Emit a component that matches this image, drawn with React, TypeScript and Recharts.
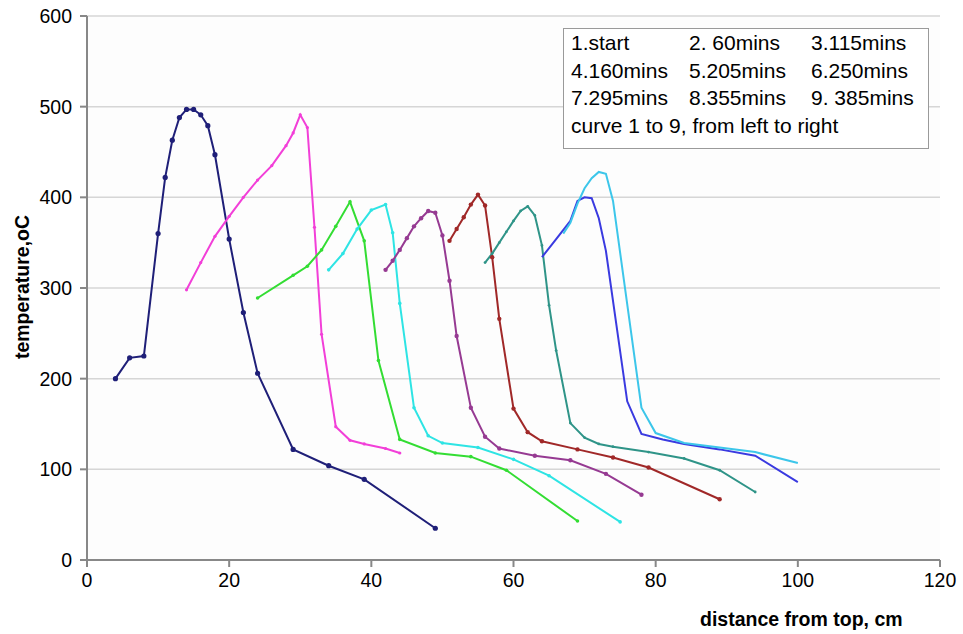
import { LineChart, Line, XAxis, YAxis, CartesianGrid } from 'recharts'

// distance from top (cm) / temperature (oC)
const curve1 = [[4, 200], [6, 223], [8, 225], [10, 360], [11, 422], [12, 463], [13, 488], [14, 497], [15, 497], [16, 491], [17, 479], [18, 447], [20, 354], [22, 273], [24, 206], [29, 122], [34, 104], [39, 89], [49, 35]]
const curve2 = [[14, 298], [16, 328], [18, 357], [20, 379], [22, 400], [24, 419], [26, 435], [28, 457], [29, 471], [30, 491], [31, 477], [32, 367], [33, 249], [35, 147], [37, 132], [39, 128], [42, 123], [44, 118]]
const curve3 = [[24, 289], [29, 314], [31, 324], [33, 342], [35, 368], [37, 395], [39, 352], [41, 220], [44, 133], [49, 118], [54, 114], [59, 99], [69, 43]]
const curve4 = [[34, 320], [36, 338], [38, 365], [40, 386], [42, 392], [43, 361], [44, 283], [46, 168], [48, 137], [50, 129], [55, 124], [60, 111], [65, 93], [75, 42]]
const curve5 = [[42, 320], [43, 330], [44, 342], [45, 355], [46, 368], [47, 377], [48, 385], [49, 383], [50, 358], [51, 308], [52, 247], [54, 168], [56, 136], [58, 123], [63, 115], [68, 110], [73, 95], [78, 72]]
const curve6 = [[51, 352], [52, 365], [53, 378], [54, 392], [55, 403], [56, 391], [57, 334], [58, 266], [60, 167], [62, 141], [64, 131], [69, 122], [74, 113], [79, 102], [89, 67]]
const curve7 = [[56, 328], [57, 338], [58, 350], [59, 362], [60, 374], [61, 385], [62, 390], [63, 380], [64, 347], [65, 281], [66, 231], [68, 151], [70, 135], [72, 128], [74, 125], [79, 119], [84, 112], [89, 99], [94, 75]]
const curve8 = [[64, 334], [66, 354], [68, 374], [69, 396], [70, 400], [71, 399], [72, 377], [73, 341], [76, 175], [78, 139], [81, 133], [84, 128], [89, 122], [94, 115], [100, 86]]
const curve9 = [[67, 360], [68, 372], [69, 393], [70, 410], [71, 421], [72, 428], [73, 426], [74, 396], [78, 168], [80, 140], [84, 129], [89, 124], [94, 119], [100, 107]]

const xTicks = [0, 20, 40, 60, 80, 100, 120]
const yTicks = [0, 100, 200, 300, 400, 500, 600]

const legendRows = [
  ['1.start', '2. 60mins', '3.115mins'],
  ['4.160mins', '5.205mins', '6.250mins'],
  ['7.295mins', '8.355mins', '9. 385mins'],
]
const legendNote = 'curve 1 to 9, from left to right'

const series = [
  { data: curve1, color: '#1f1f78', dot: 2.6 },
  { data: curve2, color: '#f23fd8', dot: 1.6 },
  { data: curve3, color: '#33dd33', dot: 1.8 },
  { data: curve4, color: '#2ee4e4', dot: 1.8 },
  { data: curve5, color: '#963a92', dot: 2.2 },
  { data: curve6, color: '#a02828', dot: 2.2 },
  { data: curve7, color: '#2f9488', dot: 1.4 },
  { data: curve8, color: '#3a3ae0', dot: 0 },
  { data: curve9, color: '#3cc6ea', dot: 0 },
]

const font = '"Liberation Sans", Arial, sans-serif'
const legendCols = [7, 125, 247]

export default function App() {
  return (
    <div style={{ position: 'relative', width: 963, height: 634, background: '#fff', fontFamily: font }}>
      <style>{'body{margin:0}'}</style>
      <LineChart width={963} height={634} margin={{ top: 16, right: 23, left: 0, bottom: 44 }}>
        <CartesianGrid horizontal vertical={false} stroke="#d6d6d6" strokeWidth={1.5} fill="#fdfdfd" fillOpacity={1} />
        <XAxis
          type="number"
          dataKey="x"
          domain={[0, 120]}
          ticks={xTicks}
          height={30}
          tickSize={7}
          tickMargin={6}
          stroke="#888"
          strokeWidth={2}
          tick={{ fill: '#000', fontSize: 19.5, fontFamily: font }}
          allowDuplicatedCategory={false}
        />
        <YAxis
          type="number"
          domain={[0, 600]}
          ticks={yTicks}
          width={87}
          tickSize={7}
          tickMargin={8}
          stroke="#888"
          strokeWidth={2}
          tick={{ fill: '#000', fontSize: 19.5, fontFamily: font }}
        />
        {series.map((s, i) => (
          <Line
            key={i}
            data={s.data.map(([x, y]) => ({ x, y }))}
            dataKey="y"
            type="linear"
            stroke={s.color}
            strokeWidth={2}
            dot={s.dot ? { r: s.dot, fill: s.color, stroke: s.color, strokeWidth: 0 } : false}
            activeDot={false}
            isAnimationActive={false}
          />
        ))}
      </LineChart>

      <div
        style={{
          position: 'absolute', left: 22, top: 287, transform: 'translate(-50%, -50%) rotate(-90deg)',
          fontWeight: 'bold', fontSize: 19.5, whiteSpace: 'nowrap',
        }}
      >
        temperature,oC
      </div>
      <div style={{ position: 'absolute', left: 700, top: 608, fontWeight: 'bold', fontSize: 19.5, whiteSpace: 'nowrap' }}>
        distance from top, cm
      </div>

      <div
        style={{
          position: 'absolute', left: 563, top: 28, width: 364, height: 119,
          border: '1px solid #9a9a9a', background: '#fff', fontSize: 21,
        }}
      >
        {legendRows.map((row, r) => (
          <div key={r} style={{ position: 'absolute', top: 2 + r * 27.5, left: 0, height: 27 }}>
            {row.map((t, c) => (
              <span key={c} style={{ position: 'absolute', left: legendCols[c], whiteSpace: 'nowrap' }}>{t}</span>
            ))}
          </div>
        ))}
        <div style={{ position: 'absolute', top: 2 + 3 * 27.5, left: legendCols[0], whiteSpace: 'nowrap' }}>{legendNote}</div>
      </div>
    </div>
  )
}
